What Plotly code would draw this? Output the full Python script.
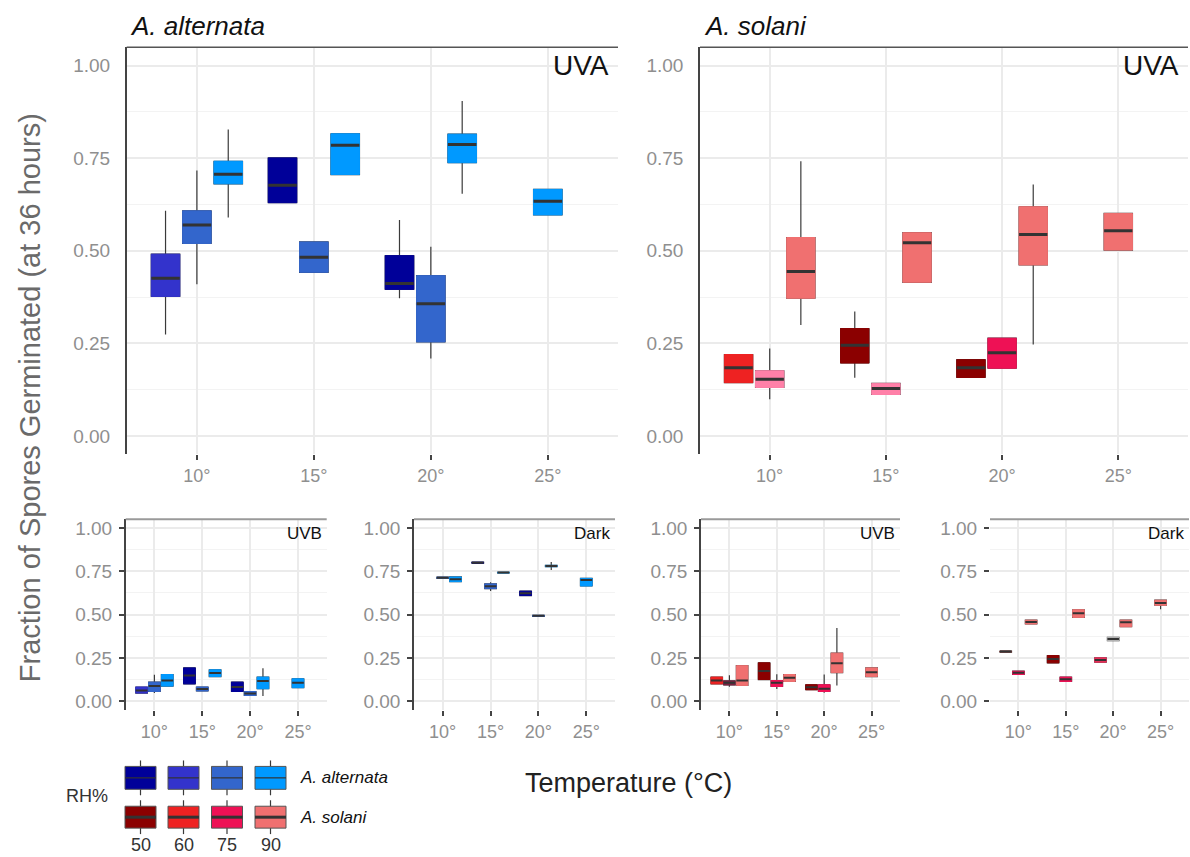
import plotly.graph_objects as go

W, H = 1190, 857

TEMPS = [10, 15, 20, 25]
TICK_TEXT = ["10°", "15°", "20°", "25°"]
Y_TICKS = [0.0, 0.25, 0.5, 0.75, 1.0]
Y_TICK_TEXT = ["0.00", "0.25", "0.50", "0.75", "1.00"]
RH_LEVELS = [50, 60, 75, 90]
ALT_COLORS = ["#000099", "#3333CC", "#3366CC", "#0099FF"]
SOL_COLORS = ["#8B0000", "#EE2222", "#EE1155", "#F07070"]

# ---- A. alternata, UVA ----
alt_uva_temp = [10, 10, 10, 15, 15, 15, 20, 20, 20, 25]
alt_uva_rh = [60, 75, 90, 50, 75, 90, 50, 75, 90, 90]
alt_uva_q1 = [0.377, 0.520, 0.681, 0.630, 0.442, 0.706, 0.396, 0.254, 0.738, 0.597]
alt_uva_med = [0.426, 0.570, 0.707, 0.677, 0.483, 0.785, 0.412, 0.357, 0.787, 0.634]
alt_uva_q3 = [0.491, 0.608, 0.742, 0.751, 0.524, 0.816, 0.487, 0.433, 0.815, 0.666]
alt_uva_lo = [0.274, 0.410, 0.590, 0.630, 0.442, 0.706, 0.372, 0.209, 0.654, 0.597]
alt_uva_hi = [0.608, 0.717, 0.828, 0.751, 0.524, 0.816, 0.583, 0.511, 0.905, 0.666]

# ---- A. solani, UVA ----
sol_uva_temp = [10, 10, 10, 15, 15, 15, 20, 20, 20, 25]
sol_uva_rh = [60, 75, 90, 50, 75, 90, 50, 75, 90, 90]
sol_uva_q1 = [0.144, 0.131, 0.372, 0.197, 0.112, 0.415, 0.158, 0.183, 0.462, 0.502]
sol_uva_med = [0.184, 0.153, 0.444, 0.245, 0.128, 0.522, 0.184, 0.225, 0.544, 0.554]
sol_uva_q3 = [0.220, 0.176, 0.536, 0.290, 0.142, 0.549, 0.206, 0.264, 0.619, 0.601]
sol_uva_lo = [0.144, 0.099, 0.300, 0.157, 0.112, 0.415, 0.158, 0.183, 0.247, 0.502]
sol_uva_hi = [0.220, 0.236, 0.742, 0.336, 0.142, 0.549, 0.206, 0.264, 0.679, 0.601]

# ---- A. alternata, UVB ----
alt_uvb_temp = [10, 10, 10, 15, 15, 15, 20, 20, 20, 25]
alt_uvb_rh = [60, 75, 90, 50, 75, 90, 50, 75, 90, 90]
alt_uvb_q1 = [0.048, 0.057, 0.088, 0.101, 0.060, 0.143, 0.057, 0.034, 0.073, 0.079]
alt_uvb_med = [0.063, 0.088, 0.120, 0.149, 0.071, 0.163, 0.083, 0.046, 0.118, 0.107]
alt_uvb_q3 = [0.083, 0.111, 0.155, 0.193, 0.083, 0.182, 0.111, 0.057, 0.140, 0.130]
alt_uvb_lo = [0.048, 0.048, 0.088, 0.101, 0.060, 0.143, 0.057, 0.034, 0.031, 0.079]
alt_uvb_hi = [0.083, 0.153, 0.155, 0.193, 0.083, 0.182, 0.111, 0.057, 0.191, 0.130]

# ---- A. alternata, Dark ----
alt_dark_temp = [10, 10, 10, 15, 15, 15, 20, 20, 20, 25]
alt_dark_rh = [60, 75, 90, 50, 75, 90, 50, 75, 90, 90]
alt_dark_q1 = [None, 0.709, 0.690, 0.796, 0.650, 0.740, 0.610, 0.490, 0.776, 0.665]
alt_dark_med = [None, 0.713, 0.704, 0.799, 0.664, 0.742, 0.623, 0.493, 0.780, 0.700]
alt_dark_q3 = [None, 0.716, 0.717, 0.802, 0.677, 0.744, 0.635, 0.496, 0.784, 0.709]
alt_dark_lo = [None, 0.709, 0.690, 0.796, 0.636, 0.740, 0.610, 0.490, 0.757, 0.665]
alt_dark_hi = [None, 0.716, 0.717, 0.802, 0.686, 0.744, 0.635, 0.496, 0.803, 0.709]

# ---- A. solani, UVB ----
sol_uvb_temp = [10, 10, 10, 15, 15, 15, 20, 20, 20, 25]
sol_uvb_rh = [60, 75, 90, 50, 75, 90, 50, 75, 90, 90]
sol_uvb_q1 = [0.101, 0.095, 0.092, 0.126, 0.086, 0.115, 0.067, 0.057, 0.166, 0.143]
sol_uvb_med = [0.121, 0.107, 0.121, 0.175, 0.107, 0.136, 0.082, 0.073, 0.220, 0.168]
sol_uvb_q3 = [0.140, 0.118, 0.206, 0.222, 0.120, 0.155, 0.096, 0.096, 0.278, 0.193]
sol_uvb_lo = [0.101, 0.085, 0.092, 0.126, 0.071, 0.115, 0.067, 0.050, 0.092, 0.143]
sol_uvb_hi = [0.140, 0.150, 0.206, 0.222, 0.156, 0.155, 0.096, 0.155, 0.423, 0.193]

# ---- A. solani, Dark ----
sol_dark_temp = [10, 10, 10, 15, 15, 15, 20, 20, 20, 25]
sol_dark_rh = [50, 75, 90, 50, 75, 90, 60, 75, 90, 90]
sol_dark_q1 = [0.284, 0.155, 0.446, 0.222, 0.115, 0.484, 0.226, 0.350, 0.430, 0.554]
sol_dark_med = [0.287, 0.165, 0.457, 0.245, 0.128, 0.508, 0.238, 0.359, 0.456, 0.567]
sol_dark_q3 = [0.290, 0.174, 0.468, 0.264, 0.140, 0.528, 0.251, 0.369, 0.468, 0.583]
sol_dark_lo = [0.284, 0.155, 0.446, 0.222, 0.115, 0.484, 0.226, 0.350, 0.430, 0.531]
sol_dark_hi = [0.290, 0.174, 0.468, 0.264, 0.140, 0.528, 0.251, 0.369, 0.468, 0.583]

# ---------------- styling ----------------
FONT = "Liberation Sans, Arial, sans-serif"
GRID = "#ebebeb"
MINOR_GRID = "#f3f3f3"
TICK_LABEL = "#8f8f8f"
WHISKER = "#3a3a3a"
MEDIAN = "#333333"
DODGE = 1.34
BOX_W = 1.22
X_RANGE = [7.0, 28.0]
Y_RANGE = [-0.05, 1.05]

# colour overrides seen in the picture (fill only)
SOL_UVA_OVR = {(10, 75): "#FF80A8", (15, 75): "#FF80A8"}
SOL_UVB_OVR = {(10, 75): "#7A2040"}
SOL_DARK_OVR = {(10, 50): "#8B3A3A", (20, 60): "#E8305A", (20, 75): "#B8B8B8"}


def px_x(p):
    return p / W


def px_y(p):
    return 1 - p / H


fig = go.Figure()


def add_panel(idx, temp, rh, q1, med, q3, lo, hi, palette, overrides, med_w):
    xa = "x" if idx == 1 else f"x{idx}"
    ya = "y" if idx == 1 else f"y{idx}"
    for i in range(len(temp)):
        if q1[i] is None:
            continue
        grp = sorted(r for tt, r in zip(temp, rh) if tt == temp[i])
        k = grp.index(rh[i])
        n = len(grp)
        xpos = temp[i] + (k - (n - 1) / 2) * DODGE
        col = overrides.get((temp[i], rh[i]), palette[RH_LEVELS.index(rh[i])])
        common = dict(x=[xpos], xaxis=xa, yaxis=ya, width=BOX_W, orientation="v",
                      boxpoints=False, whiskerwidth=0, hoverinfo="skip",
                      showlegend=False)
        fig.add_trace(go.Box(q1=[q1[i]], median=[med[i]], q3=[q3[i]],
                             lowerfence=[lo[i]], upperfence=[hi[i]],
                             fillcolor=col, line=dict(color=WHISKER, width=1.2),
                             **common))
        fig.add_trace(go.Box(q1=[q1[i]], median=[med[i]], q3=[q3[i]],
                             lowerfence=[q1[i]], upperfence=[q3[i]],
                             fillcolor=col, line=dict(color=col, width=1),
                             **common))
        fig.add_trace(go.Box(q1=[med[i]], median=[med[i]], q3=[med[i]],
                             lowerfence=[med[i]], upperfence=[med[i]],
                             fillcolor=MEDIAN, line=dict(color=MEDIAN, width=med_w),
                             **common))


add_panel(1, alt_uva_temp, alt_uva_rh, alt_uva_q1, alt_uva_med, alt_uva_q3,
          alt_uva_lo, alt_uva_hi, ALT_COLORS, {}, 3)
add_panel(2, sol_uva_temp, sol_uva_rh, sol_uva_q1, sol_uva_med, sol_uva_q3,
          sol_uva_lo, sol_uva_hi, SOL_COLORS, SOL_UVA_OVR, 3)
add_panel(3, alt_uvb_temp, alt_uvb_rh, alt_uvb_q1, alt_uvb_med, alt_uvb_q3,
          alt_uvb_lo, alt_uvb_hi, ALT_COLORS, {}, 2)
add_panel(4, alt_dark_temp, alt_dark_rh, alt_dark_q1, alt_dark_med, alt_dark_q3,
          alt_dark_lo, alt_dark_hi, ALT_COLORS, {}, 2)
add_panel(5, sol_uvb_temp, sol_uvb_rh, sol_uvb_q1, sol_uvb_med, sol_uvb_q3,
          sol_uvb_lo, sol_uvb_hi, SOL_COLORS, SOL_UVB_OVR, 2)
add_panel(6, sol_dark_temp, sol_dark_rh, sol_dark_q1, sol_dark_med, sol_dark_q3,
          sol_dark_lo, sol_dark_hi, SOL_COLORS, SOL_DARK_OVR, 2)

# ---------------- axes ----------------
TOP_Y = [px_y(454.6), px_y(45.4)]
BOT_Y = [px_y(711.4), px_y(519.6)]
X_DOMAINS = {
    1: [px_x(126.7), px_x(618)],
    2: [px_x(700), px_x(1188)],
    3: [px_x(125.7), px_x(326.7)],
    4: [px_x(414), px_x(615)],
    5: [px_x(701), px_x(900)],
    6: [px_x(990), px_x(1189)],
}

layout_axes = {}
for idx in range(1, 7):
    top = idx <= 2
    xname = "xaxis" if idx == 1 else f"xaxis{idx}"
    yname = "yaxis" if idx == 1 else f"yaxis{idx}"
    yref = "y" if idx == 1 else f"y{idx}"
    xref = "x" if idx == 1 else f"x{idx}"
    layout_axes[xname] = dict(
        domain=X_DOMAINS[idx], anchor=yref, range=X_RANGE,
        tickmode="array", tickvals=TEMPS, ticktext=TICK_TEXT,
        showgrid=True, gridcolor=GRID, gridwidth=1.5, zeroline=False,
        showline=False, ticks="outside", ticklen=5, tickwidth=1.5,
        tickcolor="#444444", tickfont=dict(size=18, color=TICK_LABEL, family=FONT),
        fixedrange=True,
    )
    layout_axes[yname] = dict(
        domain=TOP_Y if top else BOT_Y, anchor=xref, range=Y_RANGE,
        tickmode="array", tickvals=Y_TICKS, ticktext=Y_TICK_TEXT,
        showgrid=True, gridcolor=GRID, gridwidth=1.5, zeroline=False,
        showline=(idx != 6), linecolor="#444444", linewidth=1.5,
        ticks="outside", ticklen=(8 if top else 5), tickwidth=1.5,
        tickcolor=("rgba(0,0,0,0)" if top else "#444444"),
        ticklabelstandoff=3,
        tickfont=dict(size=19, color=TICK_LABEL, family=FONT),
        minor=dict(tick0=0.125, dtick=0.25, showgrid=True,
                   gridcolor=MINOR_GRID, gridwidth=1, ticks=""),
        fixedrange=True,
    )

shapes = []
annotations = []
for idx in range(1, 7):
    top = idx <= 2
    xd = "x domain" if idx == 1 else f"x{idx} domain"
    yd = "y domain" if idx == 1 else f"y{idx} domain"
    shapes.append(dict(type="line", xref=xd, yref=yd, x0=0, x1=1, y0=1, y1=1,
                       line=dict(color="#555555" if top else "#9a9a9a",
                                 width=1.5 if top else 2)))

PANEL_LABELS = {1: "UVA", 2: "UVA", 3: "UVB", 4: "Dark", 5: "UVB", 6: "Dark"}
for idx, lab in PANEL_LABELS.items():
    top = idx <= 2
    xd = "x domain" if idx == 1 else f"x{idx} domain"
    yr = "y" if idx == 1 else f"y{idx}"
    annotations.append(dict(text=lab, xref=xd, yref=yr, x=0.985, y=(1.0 if top else 0.965),
                            xanchor="right", yanchor="middle", showarrow=False,
                            font=dict(size=(28 if top else 17), color="#111111", family=FONT)))

# species titles
annotations.append(dict(text="<i>A. alternata</i>", xref="paper", yref="paper",
                        x=px_x(128), y=px_y(24), xanchor="left", yanchor="middle",
                        showarrow=False, font=dict(size=26, color="#111111", family=FONT)))
annotations.append(dict(text="<i>A. solani</i>", xref="paper", yref="paper",
                        x=px_x(702), y=px_y(24), xanchor="left", yanchor="middle",
                        showarrow=False, font=dict(size=26, color="#111111", family=FONT)))

# axis titles
annotations.append(dict(text="Fraction of Spores Germinated (at 36 hours)", xref="paper",
                        yref="paper", x=px_x(30), y=px_y(398), textangle=-90,
                        xanchor="center", yanchor="middle", showarrow=False,
                        font=dict(size=29, color="#6a6a6a", family=FONT)))
annotations.append(dict(text="Temperature (°C)", xref="paper", yref="paper",
                        x=px_x(628), y=px_y(785), xanchor="center", yanchor="middle",
                        showarrow=False, font=dict(size=27, color="#222222", family=FONT)))

# ---------------- legend key (RH%) ----------------
LEG_COLS = [140.5, 183.5, 227, 270.5]
LEG_ROWS = [(768, 791, ALT_COLORS, 1.2, "<i>A. alternata</i>"),
            (808, 830, SOL_COLORS, 3, "<i>A. solani</i>")]
KEY_W = 31
for y0, y1, pal, mw, label in LEG_ROWS:
    for cx, col in zip(LEG_COLS, pal):
        shapes.append(dict(type="line", xref="paper", yref="paper",
                           x0=px_x(cx), x1=px_x(cx), y0=px_y(y0 - 6), y1=px_y(y1 + 6),
                           line=dict(color=WHISKER, width=1.2)))
        shapes.append(dict(type="rect", xref="paper", yref="paper",
                           x0=px_x(cx - KEY_W / 2), x1=px_x(cx + KEY_W / 2),
                           y0=px_y(y1), y1=px_y(y0), fillcolor=col,
                           line=dict(color="#555555", width=1)))
        ym = (y0 + y1) / 2
        shapes.append(dict(type="line", xref="paper", yref="paper",
                           x0=px_x(cx - KEY_W / 2), x1=px_x(cx + KEY_W / 2),
                           y0=px_y(ym), y1=px_y(ym), line=dict(color=MEDIAN, width=mw)))
    annotations.append(dict(text=label, xref="paper", yref="paper", x=px_x(298),
                            y=px_y((y0 + y1) / 2), xanchor="left", yanchor="middle",
                            showarrow=False, font=dict(size=17, color="#111111", family=FONT)))

for cx, rhv in zip(LEG_COLS, RH_LEVELS):
    annotations.append(dict(text=str(rhv), xref="paper", yref="paper", x=px_x(cx),
                            y=px_y(847), xanchor="center", yanchor="middle",
                            showarrow=False, font=dict(size=18, color="#333333", family=FONT)))
annotations.append(dict(text="RH%", xref="paper", yref="paper", x=px_x(110),
                        y=px_y(798), xanchor="right", yanchor="middle", showarrow=False,
                        font=dict(size=18, color="#333333", family=FONT)))

fig.update_layout(
    width=W, height=H, margin=dict(l=0, r=0, t=0, b=0),
    paper_bgcolor="white", plot_bgcolor="white",
    boxmode="overlay", showlegend=False,
    font=dict(family=FONT),
    shapes=shapes, annotations=annotations,
    **layout_axes,
)

fig.write_html("out.html")
